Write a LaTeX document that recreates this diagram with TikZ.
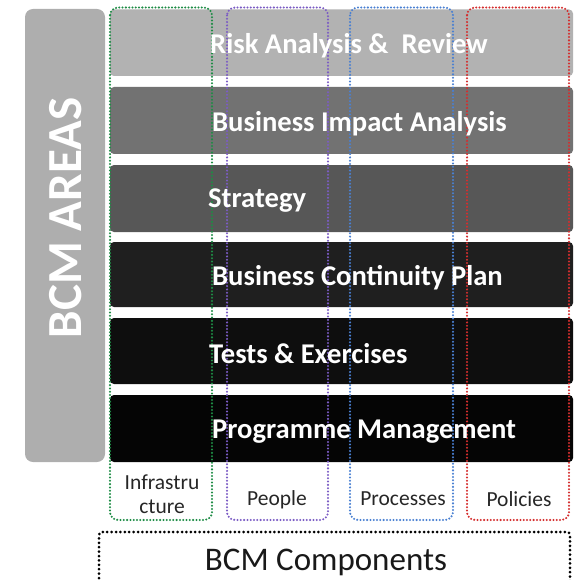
\documentclass[tikz,border=0pt]{standalone}
\usepackage{fontspec}
\setmainfont{Carlito}
\begin{document}
\begin{tikzpicture}[x=1pt,y=-1pt,
  band/.style={rounded corners=4pt, inner sep=0pt},
  bandtext/.style={text=white, font=\bfseries\fontsize{28.6}{31}\selectfont, anchor=west, inner sep=0pt},
  column/.style={line width=2.3pt, dash pattern=on 0pt off 3.3pt, line cap=round, rounded corners=8pt},
  collabel/.style={font=\fontsize{21.5}{23.5}\selectfont, text=black!85, align=center, inner sep=0pt},
]
\useasboundingbox (0,0) rectangle (575,580);
\definecolor{bandA}{HTML}{B2B2B2}
\definecolor{bandB}{HTML}{727272}
\definecolor{bandC}{HTML}{575757}
\definecolor{bandD}{HTML}{1F1F1F}
\definecolor{bandE}{HTML}{0E0E0E}
\definecolor{bandF}{HTML}{050505}
\definecolor{areaGray}{HTML}{AEAEAE}
\definecolor{colGreen}{HTML}{1E8C45}
\definecolor{colPurple}{HTML}{7B5CC4}
\definecolor{colBlue}{HTML}{4A80D2}
\definecolor{colRed}{HTML}{D42E2E}

% side bar
\fill[areaGray, rounded corners=8pt] (25,9) rectangle (105,462);
\node[rotate=90, text=white, font=\bfseries\fontsize{49}{52}\selectfont, inner sep=0pt] (areas) at (66,218) {BCM AREAS};

% horizontal bands
\fill[bandA, band] (110,9.5) rectangle (573,76);
\fill[bandB, band] (110,87) rectangle (573,154);
\fill[bandC, band] (110,165) rectangle (573,232);
\fill[bandD, band] (110,242) rectangle (573,307);
\fill[bandE, band] (110,318) rectangle (573,384);
\fill[bandF, band] (110,395) rectangle (573,462);

% component columns
\draw[column, colGreen]  (110,7.5) rectangle (212,520);
\draw[column, colPurple] (227,7.5) rectangle (328,520);
\draw[column, colBlue]   (350,7.5) rectangle (453,520);
\draw[column, colRed]    (467,7.5) rectangle (569,520);

% band titles
\node[bandtext] (risk) at (210,46) {Risk Analysis \&\ \ Review};
\node[bandtext] (bia) at (212,124) {Business Impact Analysis};
\node[bandtext] (strat) at (208,201) {Strategy};
\node[bandtext] (bcp) at (212,278) {Business Continuity Plan};
\node[bandtext] (tests) at (209,354) {Tests \& Exercises};
\node[bandtext] (prog) at (212,432) {Programme Management};

% column labels
\node[collabel] (infra) at (162,494) {Infrastru\\cture};
\node[collabel] (people) at (277,500) {People};
\node[collabel] (proc) at (403,499) {Processes};
\node[collabel] (pol) at (519,499) {Policies};

% components frame
\draw[line width=3pt, dash pattern=on 0pt off 4.4pt, line cap=round] (99,600) -- (99,535) [rounded corners=3pt] -- (99,532) -- (570,532) -- (570,600);
\node[font=\fontsize{33}{36}\selectfont, text=black!90, inner sep=0pt] (comp) at (326,562) {BCM Components};
\end{tikzpicture}
\end{document}
